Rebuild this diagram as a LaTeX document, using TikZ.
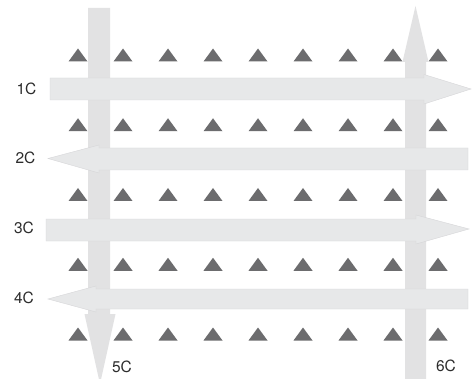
\documentclass[tikz,border=0pt]{standalone}
\usepackage{fontspec}
\setmainfont{TeX Gyre Heros}
\definecolor{flowV}{RGB}{226,226,227}
\definecolor{flowH}{RGB}{231,232,233}
\definecolor{flowEdge}{RGB}{214,214,216}
\definecolor{marker}{RGB}{108,108,110}
\definecolor{labeltext}{RGB}{45,45,45}
\begin{document}
\begin{tikzpicture}[x=1pt,y=-1pt,
  vflow/.style={fill=flowV},
  hflow/.style={fill=flowH,draw=flowEdge,line width=0.4pt},
  tri/.style={fill=marker},
  lab/.style={text=labeltext,font=\fontsize{15.5}{15.5}\selectfont,inner sep=0pt}]
\useasboundingbox (0,0) rectangle (473,379);
\fill[white] (0,0) rectangle (473,379);

% grid of triangular markers
\foreach \r in {55,124.75,194.5,264.25,334}{
  \foreach \c in {0,...,8}{
    \fill[tri] ({78+45*\c-9.5},\r+6.5) -- ({78+45*\c+9.5},\r+6.5) -- ({78+45*\c},\r-6.5) -- cycle;
  }
}

% vertical flows
\fill[vflow] (88,8) -- (110,8) -- (110,314) -- (115.5,314) -- (100,384) -- (84.5,314) -- (88,314) -- cycle;
\fill[vflow] (405,62) -- (402.5,62) -- (415.5,6) -- (428.5,62) -- (426,62) -- (426,385) -- (405,385) -- cycle;

% horizontal flows
\filldraw[hflow] (50,78) -- (424,78) -- (424,74.5) -- (471,89) -- (424,104) -- (424,100) -- (50,100) -- cycle;
\filldraw[hflow] (468,148) -- (99,148) -- (99,145) -- (48,158.5) -- (99,173) -- (99,170) -- (468,170) -- cycle;
\filldraw[hflow] (46,219) -- (416,219) -- (416,215) -- (469,229) -- (416,244) -- (416,241) -- (46,241) -- cycle;
\filldraw[hflow] (468,289) -- (96,289) -- (96,286) -- (48,299) -- (96,312) -- (96,309) -- (468,309) -- cycle;

% labels
\node[lab] (c1) at (26.5,89) {1C};
\node[lab] (c2) at (25.5,158) {2C};
\node[lab] (c3) at (24,228) {3C};
\node[lab] (c4) at (24,298) {4C};
\node[lab] (c5) at (122,367) {5C};
\node[lab] (c6) at (446,366) {6C};
\end{tikzpicture}
\end{document}
